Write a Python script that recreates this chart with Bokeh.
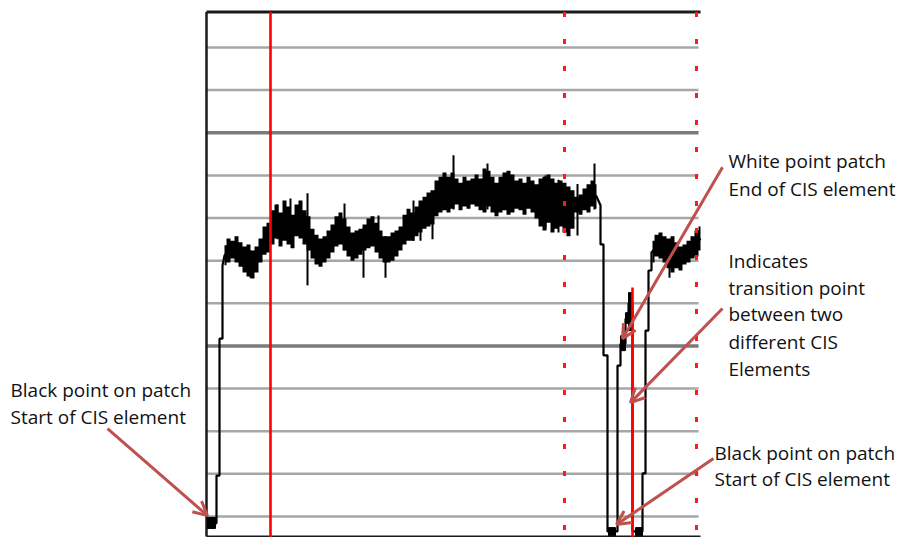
from bokeh.plotting import figure
from bokeh.models import Range1d, Arrow, OpenHead
from bokeh.core.properties import value
from bokeh.embed import file_html
from bokeh.resources import INLINE

# ---------------- data (sample index vs. signal level) ----------------
grid_levels = [0, 10, 20, 30, 40, 50, 60, 70, 80, 90, 100, 110]
major_levels = [40, 90]

# noisy plateau of the first CIS element: envelope (low / high) per sample
band1_x = [18, 22, 26, 30, 34, 38, 42, 46, 50, 54, 58, 62, 66, 70, 74, 78, 82, 86, 90, 94,
           98, 102, 106, 110, 114, 118, 122, 126, 130, 134, 138, 142, 146, 150, 154, 158,
           162, 166, 170, 174, 178, 182, 186, 190, 194, 198, 202, 206, 210, 214, 218, 222,
           226, 230, 234, 238, 242, 246, 250, 254, 258, 262, 266, 270, 274, 278, 282, 286,
           290, 294, 298, 302, 306, 310, 314, 318, 322, 326, 330, 334, 338, 342, 346, 350,
           354, 358, 362, 366, 370, 374, 378, 382, 386, 390]
band1_hi = [63.6, 65.2, 64.7, 65.7, 64.3, 63.3, 63.8, 62.4, 63.3, 65.2,
            68.0, 68.9, 71.8, 73.2, 71.3, 74.1, 72.7, 70.8, 73.2, 74.1,
            71.8, 70.4, 67.5, 66.1, 65.2, 65.7, 67.1, 68.5, 70.4, 71.3,
            69.9, 68.0, 66.6, 67.1, 67.5, 68.5, 69.9, 70.4, 68.9, 67.1,
            65.7, 65.7, 66.6, 67.1, 68.0, 70.8, 72.2, 71.3, 72.7, 74.1,
            75.0, 76.0, 76.5, 78.8, 79.7, 80.7, 79.7, 80.7, 79.3, 78.3,
            79.7, 78.8, 79.3, 80.2, 79.3, 81.6, 81.1, 79.7, 78.3, 79.7,
            80.7, 81.1, 80.2, 78.8, 79.3, 78.3, 79.7, 78.8, 77.9, 79.3,
            79.7, 80.2, 79.3, 78.3, 78.8, 78.3, 77.4, 76.5, 75.0, 75.5,
            76.9, 77.9, 78.8, 77.9]
band1_lo = [58.9, 59.6, 60.5, 59.6, 58.6, 57.2, 56.3, 55.8, 57.2, 59.6,
            61.4, 61.9, 63.8, 65.2, 63.3, 64.7, 63.8, 62.9, 65.7, 65.2,
            63.8, 62.4, 60.5, 59.1, 58.6, 59.6, 60.5, 61.9, 63.3, 63.8,
            62.4, 61.0, 60.0, 60.5, 61.4, 62.4, 62.9, 63.3, 61.9, 60.5,
            59.6, 59.6, 60.0, 61.0, 62.4, 63.8, 64.7, 64.7, 65.7, 66.6,
            67.5, 68.0, 68.5, 70.4, 71.3, 71.8, 71.3, 72.2, 73.2, 71.8,
            72.7, 72.2, 73.2, 72.7, 71.8, 71.3, 72.7, 71.3, 70.4, 71.3,
            71.8, 70.8, 71.3, 72.2, 71.8, 70.8, 72.2, 71.3, 69.9, 68.0,
            67.1, 68.9, 66.6, 67.5, 68.0, 66.6, 65.7, 67.5, 71.3, 70.8,
            71.8, 71.3, 72.7, 72.2]

# noisy plateau of the second CIS element
band2_x = [446, 450, 454, 458, 462, 466, 470, 474, 478, 482, 486, 490, 494]
band2_hi = [64.7, 66.1, 66.6, 65.7, 65.2, 65.7, 64.3, 63.3, 63.8, 64.7, 65.7, 67.1, 68.0]
band2_lo = [59.6, 61.0, 60.5, 59.6, 58.2, 57.2, 58.2, 57.7, 59.1, 59.6, 60.5, 61.0, 62.4]

# rising edge at the start
rise_x = [2, 10, 10, 13, 13, 16, 16, 18]
rise_y = [-1.6, -1.6, 9.6, 9.6, 41.7, 41.7, 58.9, 61.2]

# transition between the two elements (drop, black patch, rise)
trans_x = [394, 394, 397, 397, 401, 401, 411, 411, 414, 414, 419, 419, 422, 422, 426, 426,
           436, 436, 439, 439, 442, 442, 445, 445]
trans_y = [73.0, 63.8, 63.8, 37.8, 37.8, -3.5, -3.5, 35.4, 35.4, 40.5, 40.5, 46.4, 46.4,
           50.0, 50.0, -3.5, -3.5, 10.1, 10.1, 43.6, 43.6, 57.7, 57.7, 62.0]

# dense black patches on the trace
patch_left = [1, 402, 429, 414, 419, 422]
patch_right = [9, 409, 436, 419, 422, 426]
patch_bottom = [-2.8, -4.5, -4.5, 38.9, 45.3, 43.6]
patch_top = [-0.2, -2.6, -2.6, 42.4, 47.8, 52.5]

# isolated noise spikes
spike_x = [44, 71, 84, 101, 138, 157, 172, 179, 207, 214, 226, 247, 281, 339, 352, 371, 388, 463]
spike_top = [62.4, 73.2, 74.6, 75.8, 73.4, 67.5, 70.6, 65.7, 74.1, 71.8, 74.1, 84.7, 82.8,
             80.0, 79.0, 78.0, 82.8, 64.0]
spike_bottom = [56.0, 65.0, 64.0, 54.2, 62.4, 56.0, 62.4, 56.0, 64.7, 64.7, 65.0, 72.0, 72.0,
                67.5, 66.6, 65.9, 72.0, 56.0]

# marker lines
solid_marker_x = [64]
dotted_marker_x = [358, 490]
transition_marker_x = [426]
transition_marker_top = [53.7]

# ---------------- layout constants ----------------
PLOT_LEFT, PLOT_RIGHT = 0, 494
PLOT_TOP, PLOT_BOTTOM = 118.3, -4.7
ARROW_C = "#c0504d"
TEXT_C = "#111111"
FONT = "Open Sans"
FSIZE = "19px"

p = figure(width=901, height=537, x_range=Range1d(-206, 695), y_range=Range1d(-4.925, 121.02),
           x_axis_type=None, y_axis_type=None, output_backend="svg",
           toolbar_location=None, min_border=0)
p.outline_line_color = None
p.background_fill_color = "white"

# gridlines
minor = [v for v in grid_levels if v not in major_levels]
p.segment(x0=[PLOT_LEFT] * len(minor), x1=[PLOT_RIGHT - 2] * len(minor), y0=minor, y1=minor,
          line_color="#a6a6a6", line_width=2.5)
p.segment(x0=[PLOT_LEFT] * len(major_levels), x1=[PLOT_RIGHT - 2] * len(major_levels),
          y0=major_levels, y1=major_levels, line_color="#7a7a7a", line_width=3.5)

# plot borders
p.segment(x0=[PLOT_LEFT, PLOT_LEFT, PLOT_LEFT], x1=[PLOT_RIGHT, PLOT_LEFT, PLOT_RIGHT],
          y0=[PLOT_TOP, PLOT_TOP, PLOT_BOTTOM], y1=[PLOT_TOP, PLOT_BOTTOM, PLOT_BOTTOM],
          line_color="#1a1a1a", line_width=[3, 2.5, 2])

# trace
p.varea_step(x=band1_x, y1=band1_lo, y2=band1_hi, step_mode="center", fill_color="black")
p.varea_step(x=band2_x, y1=band2_lo, y2=band2_hi, step_mode="center", fill_color="black")
c1 = [(a + b) / 2 for a, b in zip(band1_lo, band1_hi)]
c2 = [(a + b) / 2 for a, b in zip(band2_lo, band2_hi)]
line_x = rise_x + band1_x + trans_x + band2_x
line_y = rise_y + c1 + trans_y + c2
p.line(line_x, line_y, line_color="black", line_width=2.2)
p.quad(left=patch_left, right=patch_right, bottom=patch_bottom, top=patch_top,
       fill_color="black", line_color="black", line_width=1)
p.segment(x0=spike_x, x1=spike_x, y0=spike_bottom, y1=spike_top, line_color="black", line_width=2)

# red marker lines
p.segment(x0=solid_marker_x, x1=solid_marker_x, y0=[PLOT_TOP] * len(solid_marker_x),
          y1=[PLOT_BOTTOM - 1] * len(solid_marker_x), line_color="#ff0000", line_width=2.6)
p.segment(x0=dotted_marker_x, x1=dotted_marker_x, y0=[PLOT_TOP] * len(dotted_marker_x),
          y1=[PLOT_BOTTOM - 1] * len(dotted_marker_x), line_color="#ff1a1a", line_width=3,
          line_dash="5 22")
p.segment(x0=transition_marker_x, x1=transition_marker_x, y0=transition_marker_top,
          y1=[PLOT_BOTTOM - 1] * len(transition_marker_x), line_color="#ff0000", line_width=2.6)

# annotation arrows
for xs, ys, xe, ye in [(-99, 20.6, 1, 0.2), (516, 81.9, 416, 41.7),
                       (516, 48.8, 424, 26.7), (507, 13.6, 410, -1.9)]:
    p.add_layout(Arrow(end=OpenHead(size=14, line_color=ARROW_C, line_width=3),
                       x_start=xs, y_start=ys, x_end=xe, y_end=ye,
                       line_color=ARROW_C, line_width=3))

# annotation texts
texts = ["Black point on patch", "Start of CIS element",
         "White point patch", "End of CIS element",
         "Indicates", "transition point", "between two", "different CIS", "Elements",
         "Black point on patch", "Start of CIS element"]
tx = [-196, -196, 522, 522, 522, 522, 522, 522, 522, 508, 508]
ty = [29.6, 23.3, 83.3, 76.9, 60.0, 53.7, 47.4, 41.0, 34.7, 15.0, 8.7]
p.text(x=tx, y=ty, text=texts, text_font=value(FONT), text_font_size=FSIZE,
       text_color=TEXT_C, text_baseline="alphabetic", text_align="left")

open("out.html", "w").write(file_html(p, INLINE))
